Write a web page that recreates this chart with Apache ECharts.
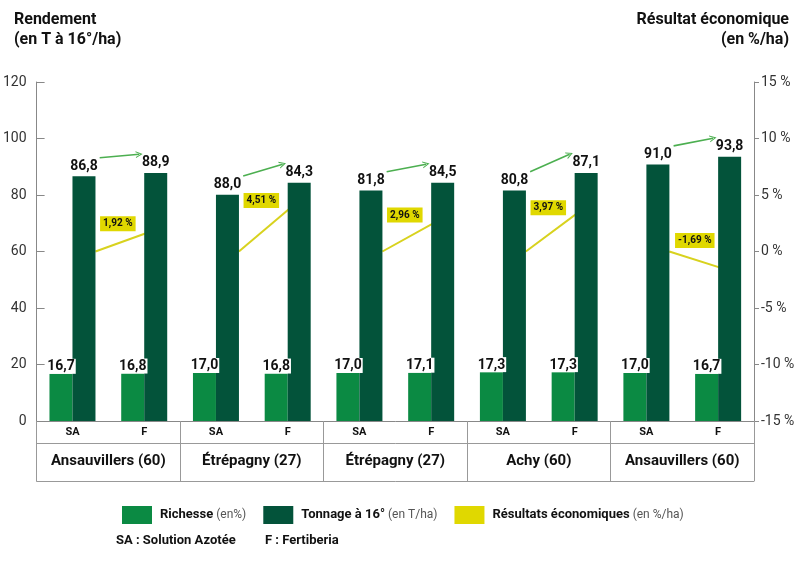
<!DOCTYPE html>
<html>
<head>
<meta charset="utf-8">
<script src="https://cdn.jsdelivr.net/npm/echarts@6/dist/echarts.min.js"></script>
<style>html,body{margin:0;padding:0;background:#fff;}#chart{width:800px;height:570px;}</style>
</head>
<body>
<div id="chart"></div>
<script>
// ---- data ----
const categories = ['SA','F','SA','F','SA','F','SA','F','SA','F'];
const sites = ['Ansauvillers (60)','Étrépagny (27)','Étrépagny (27)','Achy (60)','Ansauvillers (60)'];
const richesse = [16.7,16.8,17.0,16.8,17.0,17.1,17.3,17.3,17.0,16.7];
const tonnage = [86.6,87.8,80.1,84.3,81.6,84.3,81.6,87.8,90.8,93.5];          // bar heights as drawn
const tonnageLabels = ['86,8','88,9','88,0','84,3','81,8','84,5','80,8','87,1','91,0','93,8']; // printed values
const resultats = [1.92,4.51,2.96,3.97,-1.69];
const leftAxis = {min:0, max:120, interval:20};
const rightAxis = {min:-15, max:15, interval:5};

// ---- layout / style ----
const FONT = 'Roboto, "Noto Sans", sans-serif';
const LIGHT = '#0b8a43', DARK = '#03533a', YELLOW = '#e0d800', LINEY = '#d8d21e', ARROW = '#4caf50';
const GRID = {left:34, right:46, top:82, height:339};
const plotW = 800 - GRID.left - GRID.right;
const BAR_W = 23;
const w = BAR_W / (plotW / categories.length); // bar width in category units
const fmt = v => v.toFixed(2).replace('.', ',') + ' %';
const labelStyles = [
  {offset:[0,-6]}, {offset:[0,0]}, {offset:[0,-3]}, {offset:[0,1]}, {offset:[5,-30]}
];

const econSeries = resultats.map((v, g) => ({
  type:'line', name:'Résultats économiques', xAxisIndex:4, yAxisIndex:1, z:1,
  color: YELLOW, lineStyle:{color:LINEY, width:2}, symbol:'circle', symbolSize:0.1,
  itemStyle:{color:YELLOW}, silent:true,
  data:[
    {value:[2*g + 0.5 + w, 0], label:{show:false}},
    {value:[2*g + 1.5 + w/2, v], label:Object.assign({
      show:true, position:'left', distance:20, formatter: () => fmt(v),
      fontFamily:FONT, fontWeight:'bold', fontSize:10, color:'#111',
      backgroundColor:YELLOW, padding:[3,3,2,3]
    }, labelStyles[g])}
  ]
}));

const arrowData = resultats.map((v, g) => ({
  coords:[[2*g + 0.5 + w + 0.06, tonnage[2*g] + 6.6], [2*g + 1.5 - 0.07, tonnage[2*g+1] + 6.6]]
}));

const option = {
  animation:false,
  textStyle:{fontFamily:FONT},
  grid:GRID,
  legend:{
    left:117, top:501, itemWidth:30, itemHeight:18, itemGap:17, icon:'rect',
    data:['Richesse','Tonnage à 16°','Résultats économiques'],
    formatter: name => {
      const suf = {'Richesse':'(en%)','Tonnage à 16°':'(en T/ha)','Résultats économiques':'(en %/ha)'}[name];
      return '{b|' + name + '}{n|' + suf + '}';
    },
    textStyle:{rich:{
      b:{fontFamily:FONT, fontWeight:'bold', fontSize:13, color:'#111', padding:[0,3,0,3]},
      n:{fontFamily:FONT, fontSize:12, color:'#555'}
    }}
  },
  xAxis:[
    {type:'category', data:categories, position:'bottom',
     axisLine:{onZero:false, lineStyle:{color:'#888'}}, axisTick:{show:false},
     axisLabel:{margin:6, fontFamily:FONT, fontWeight:'bold', fontSize:11, color:'#111'}},
    {type:'category', data:sites, position:'bottom',
     axisLine:{show:false, onZero:false}, axisTick:{show:true, length:60, interval:0, lineStyle:{color:'#999'}},
     axisLabel:{margin:33, interval:0, fontFamily:FONT, fontWeight:'bold', fontSize:15, color:'#111'}},
    {type:'category', data:sites, position:'bottom', offset:22,
     axisLine:{onZero:false, lineStyle:{color:'#999'}}, axisTick:{show:false}, axisLabel:{show:false}},
    {type:'category', data:sites, position:'bottom', offset:60,
     axisLine:{onZero:false, lineStyle:{color:'#999'}}, axisTick:{show:false}, axisLabel:{show:false}},
    {type:'value', min:0, max:categories.length, show:false}
  ],
  yAxis:[
    {type:'value', min:leftAxis.min, max:leftAxis.max, interval:leftAxis.interval, position:'left',
     axisLine:{show:true, onZero:false, lineStyle:{color:'#888'}}, axisTick:{show:true, inside:true, length:8, lineStyle:{color:'#888'}},
     splitLine:{show:false},
     axisLabel:{margin:10, fontFamily:FONT, fontSize:14, color:'#333'}},
    {type:'value', min:rightAxis.min, max:rightAxis.max, interval:rightAxis.interval, position:'right',
     axisLine:{show:true, onZero:false, lineStyle:{color:'#888'}}, axisTick:{show:true, length:5, lineStyle:{color:'#888'}},
     splitLine:{show:false},
     axisLabel:{margin:7, fontFamily:FONT, fontSize:14, color:'#333', formatter:'{value} %'}}
  ],
  series:[
    ...econSeries,
    {type:'bar', name:'Richesse', data:richesse, barWidth:BAR_W, barGap:'0%', z:3,
     itemStyle:{color:LIGHT},
     label:{show:true, position:'top', distance:0, fontFamily:FONT, fontWeight:'bold', fontSize:14, color:'#111',
            backgroundColor:'#fff', padding:[1,1,0,1], formatter: p => p.value.toFixed(1).replace('.', ',')}},
    {type:'bar', name:'Tonnage à 16°', data:tonnage, barWidth:BAR_W, z:3,
     itemStyle:{color:DARK},
     label:{show:true, position:'top', distance:3, fontFamily:FONT, fontWeight:'bold', fontSize:14, color:'#111',
            formatter: p => tonnageLabels[p.dataIndex]}},
    {type:'lines', coordinateSystem:'cartesian2d', xAxisIndex:4, yAxisIndex:0, z:4, silent:true,
     symbol:['none','path://M0,10 L5,0 L10,10 L8.4,10 L5,3.2 L1.6,10 Z'], symbolSize:[11,7],
     lineStyle:{color:ARROW, width:1.6, opacity:1}, data:arrowData}
  ],
  graphic:[
    {type:'text', left:14, top:10, style:{text:'Rendement\n(en T à 16°/ha)', font:'bold 16px ' + FONT, fill:'#111', lineHeight:20}},
    {type:'text', x:789, y:10, style:{text:'Résultat économique\n(en %/ha)', font:'bold 16px ' + FONT, fill:'#111', lineHeight:20, align:'right', verticalAlign:'top'}},
    {type:'text', left:116, top:534, style:{text:'SA : Solution Azotée', font:'bold 13px ' + FONT, fill:'#111'}},
    {type:'text', left:265, top:534, style:{text:'F : Fertiberia', font:'bold 13px ' + FONT, fill:'#111'}}
  ]
};
const chart = echarts.init(document.getElementById('chart'), null, {renderer:'canvas'});
chart.setOption(option);
</script>
</body>
</html>
